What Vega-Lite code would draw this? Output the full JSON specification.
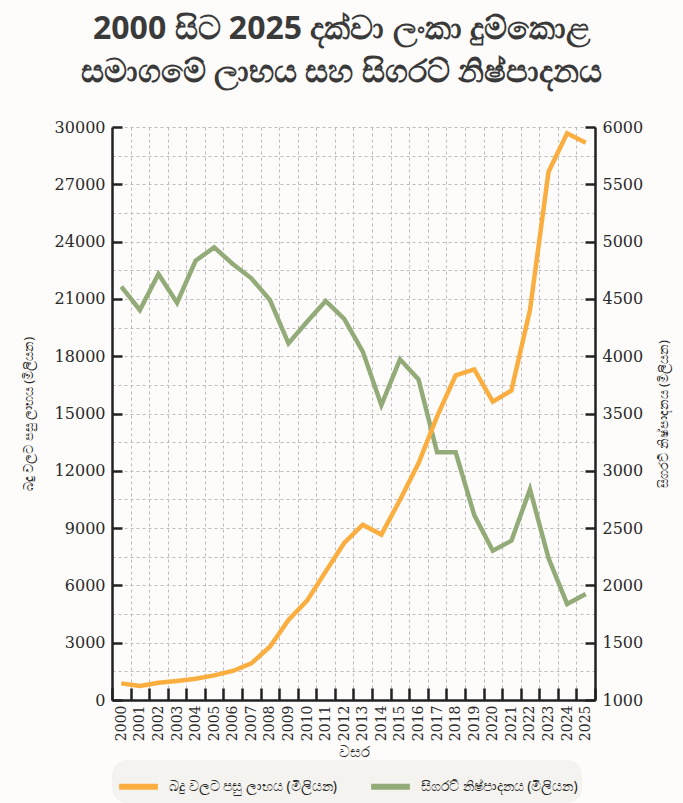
{
  "$schema": "https://vega.github.io/schema/vega-lite/v6.json",
  "width": 483,
  "height": 573,
  "autosize": {"type": "none"},
  "padding": {"left": 112, "top": 127, "right": 88, "bottom": 103},
  "background": "#fdfcfa",
  "title": {
    "text": ["2000 සිට 2025 දක්වා ලංකා දුම්කොළ", "සමාගමේ ලාභය සහ සිගරට් නිෂ්පාදනය"],
    "font": "Noto Sans",
    "fontSize": 32,
    "fontWeight": "bold",
    "color": "#3a3a3a",
    "lineHeight": 43,
    "anchor": "middle",
    "dx": -12,
    "offset": 30
  },
  "config": {
    "view": {"stroke": null},
    "axis": {
      "labelFont": "DejaVu Serif",
      "labelColor": "#2a2a2a",
      "titleFont": "Noto Sans",
      "titleFontWeight": "normal",
      "titleColor": "#222222",
      "domainColor": "#222222",
      "domainWidth": 2.5,
      "tickColor": "#222222",
      "tickWidth": 2.5,
      "gridColor": "#bcbcbc",
      "gridDash": [3, 3],
      "gridWidth": 1
    }
  },
  "datasets": {
    "rows": [
      {"year": 2000, "series": "බදු වලට පසු ලාභය (මිලියන)", "value": 870},
      {"year": 2001, "series": "බදු වලට පසු ලාභය (මිලියන)", "value": 730},
      {"year": 2002, "series": "බදු වලට පසු ලාභය (මිලියන)", "value": 900},
      {"year": 2003, "series": "බදු වලට පසු ලාභය (මිලියන)", "value": 990},
      {"year": 2004, "series": "බදු වලට පසු ලාභය (මිලියන)", "value": 1110},
      {"year": 2005, "series": "බදු වලට පසු ලාභය (මිලියන)", "value": 1290},
      {"year": 2006, "series": "බදු වලට පසු ලාභය (මිලියන)", "value": 1520},
      {"year": 2007, "series": "බදු වලට පසු ලාභය (මිලියන)", "value": 1920},
      {"year": 2008, "series": "බදු වලට පසු ලාභය (මිලියන)", "value": 2790},
      {"year": 2009, "series": "බදු වලට පසු ලාභය (මිලියන)", "value": 4190},
      {"year": 2010, "series": "බදු වලට පසු ලාභය (මිලියන)", "value": 5200},
      {"year": 2011, "series": "බදු වලට පසු ලාභය (මිලියන)", "value": 6720},
      {"year": 2012, "series": "බදු වලට පසු ලාභය (මිලියන)", "value": 8220},
      {"year": 2013, "series": "බදු වලට පසු ලාභය (මිලියන)", "value": 9180},
      {"year": 2014, "series": "බදු වලට පසු ලාභය (මිලියන)", "value": 8660},
      {"year": 2015, "series": "බදු වලට පසු ලාභය (මිලියන)", "value": 10470},
      {"year": 2016, "series": "බදු වලට පසු ලාභය (මිලියන)", "value": 12390},
      {"year": 2017, "series": "බදු වලට පසු ලාභය (මිලියන)", "value": 14850},
      {"year": 2018, "series": "බදු වලට පසු ලාභය (මිලියන)", "value": 17000},
      {"year": 2019, "series": "බදු වලට පසු ලාභය (මිලියන)", "value": 17310},
      {"year": 2020, "series": "බදු වලට පසු ලාභය (මිලියන)", "value": 15620},
      {"year": 2021, "series": "බදු වලට පසු ලාභය (මිලියන)", "value": 16200},
      {"year": 2022, "series": "බදු වලට පසු ලාභය (මිලියන)", "value": 20420},
      {"year": 2023, "series": "බදු වලට පසු ලාභය (මිලියන)", "value": 27660},
      {"year": 2024, "series": "බදු වලට පසු ලාභය (මිලියන)", "value": 29670},
      {"year": 2025, "series": "බදු වලට පසු ලාභය (මිලියන)", "value": 29180},
      {"year": 2000, "series": "සිගරට් නිෂ්පාදනය (මිලියන)", "value": 4607},
      {"year": 2001, "series": "සිගරට් නිෂ්පාදනය (මිලියන)", "value": 4403},
      {"year": 2002, "series": "සිගරට් නිෂ්පාදනය (මිලියන)", "value": 4717},
      {"year": 2003, "series": "සිගරට් නිෂ්පාදනය (මිලියන)", "value": 4467},
      {"year": 2004, "series": "සිගරට් නිෂ්පාදනය (මිලියන)", "value": 4833},
      {"year": 2005, "series": "සිගරට් නිෂ්පාදනය (මිලියන)", "value": 4950},
      {"year": 2006, "series": "සිගරට් නිෂ්පාදනය (මිලියන)", "value": 4805},
      {"year": 2007, "series": "සිගරට් නිෂ්පාදනය (මිලියන)", "value": 4680},
      {"year": 2008, "series": "සිගරට් නිෂ්පාදනය (මිලියන)", "value": 4490},
      {"year": 2009, "series": "සිගරට් නිෂ්පාදනය (මිලියන)", "value": 4112},
      {"year": 2010, "series": "සිගරට් නිෂ්පාදනය (මිලියන)", "value": 4301},
      {"year": 2011, "series": "සිගරට් නිෂ්පාදනය (මිලියන)", "value": 4482},
      {"year": 2012, "series": "සිගරට් නිෂ්පාදනය (මිලියන)", "value": 4325},
      {"year": 2013, "series": "සිගරට් නිෂ්පාදනය (මිලියන)", "value": 4040},
      {"year": 2014, "series": "සිගරට් නිෂ්පාදනය (මිලියන)", "value": 3574},
      {"year": 2015, "series": "සිගරට් නිෂ්පාදනය (මිලියන)", "value": 3973},
      {"year": 2016, "series": "සිගරට් නිෂ්පාදනය (මිලියන)", "value": 3798},
      {"year": 2017, "series": "සිගරට් නිෂ්පාදනය (මිලියන)", "value": 3161},
      {"year": 2018, "series": "සිගරට් නිෂ්පාදනය (මිලියන)", "value": 3161},
      {"year": 2019, "series": "සිගරට් නිෂ්පාදනය (මිලියන)", "value": 2614},
      {"year": 2020, "series": "සිගරට් නිෂ්පාදනය (මිලියන)", "value": 2303},
      {"year": 2021, "series": "සිගරට් නිෂ්පාදනය (මිලියන)", "value": 2390},
      {"year": 2022, "series": "සිගරට් නිෂ්පාදනය (මිලියන)", "value": 2839},
      {"year": 2023, "series": "සිගරට් නිෂ්පාදනය (මිලියන)", "value": 2236},
      {"year": 2024, "series": "සිගරට් නිෂ්පාදනය (මිලියන)", "value": 1838},
      {"year": 2025, "series": "සිගරට් නිෂ්පාදනය (මිලියන)", "value": 1925}
    ]
  },
  "data": {"name": "rows"},
  "encoding": {
    "x": {
      "field": "year",
      "type": "ordinal",
      "bandPosition": 0.5,
      "scale": {"type": "band", "paddingInner": 0, "paddingOuter": 0},
      "axis": {
        "title": "වසර",
        "titleFontSize": 15,
        "titlePadding": 4,
        "labelAngle": -90,
        "labelFontSize": 14,
        "labelAlign": "right",
        "labelBaseline": "middle",
        "tickBand": "extent",
        "tickSize": -12,
        "labelPadding": 17,
        "grid": true
      }
    },
    "color": {
      "field": "series",
      "type": "nominal",
      "scale": {
        "domain": ["බදු වලට පසු ලාභය (මිලියන)", "සිගරට් නිෂ්පාදනය (මිලියන)"],
        "range": ["#fbae40", "#93ab78"]
      },
      "legend": {
        "title": null,
        "orient": "bottom",
        "direction": "horizontal",
        "symbolType": "stroke",
        "symbolSize": 1500,
        "symbolStrokeWidth": 6,
        "labelFont": "Noto Sans",
        "labelFontSize": 14,
        "labelColor": "#222222",
        "labelLimit": 320,
        "labelOffset": 8,
        "columnPadding": 22,
        "fillColor": "#f4f3ef",
        "cornerRadius": 15,
        "padding": 4,
        "offset": 0
      }
    }
  },
  "layer": [
    {
      "transform": [{"filter": "datum.series === 'සිගරට් නිෂ්පාදනය (මිලියන)'"}],
      "mark": {"type": "line", "strokeWidth": 4.5},
      "encoding": {
        "y": {
          "field": "value",
          "type": "quantitative",
          "scale": {"domain": [1000, 6000], "nice": false, "zero": false},
          "axis": {
            "orient": "right",
            "title": "සිගරට් නිෂ්පාදනය (මිලියන)",
            "titleAngle": -90,
            "titleFontSize": 13,
            "titlePadding": 28,
            "values": [1000, 1500, 2000, 2500, 3000, 3500, 4000, 4500, 5000, 5500, 6000],
            "format": "d",
            "labelFontSize": 16,
            "tickSize": -10,
            "labelPadding": 17,
            "grid": false
          }
        }
      }
    },
    {
      "transform": [{"filter": "datum.series === 'බදු වලට පසු ලාභය (මිලියන)'"}],
      "mark": {"type": "line", "strokeWidth": 4.5},
      "encoding": {
        "y": {
          "field": "value",
          "type": "quantitative",
          "scale": {"domain": [0, 30000], "nice": false},
          "axis": {
            "orient": "left",
            "title": "බදු වලට පසු ලාභය (මිලියන)",
            "titleFontSize": 13,
            "titlePadding": 19,
            "values": [0, 1500, 3000, 4500, 6000, 7500, 9000, 10500, 12000, 13500, 15000, 16500, 18000, 19500, 21000, 22500, 24000, 25500, 27000, 28500, 30000],
            "labelExpr": "datum.value % 3000 === 0 ? datum.label : ''",
            "labelFontSize": 16,
            "format": "d",
            "tickSize": -10,
            "tickOpacity": {"condition": {"test": "datum.value % 3000 === 0", "value": 1}, "value": 0},
            "labelPadding": 17,
            "grid": true
          }
        }
      }
    }
  ],
  "resolve": {"scale": {"y": "independent"}}
}
